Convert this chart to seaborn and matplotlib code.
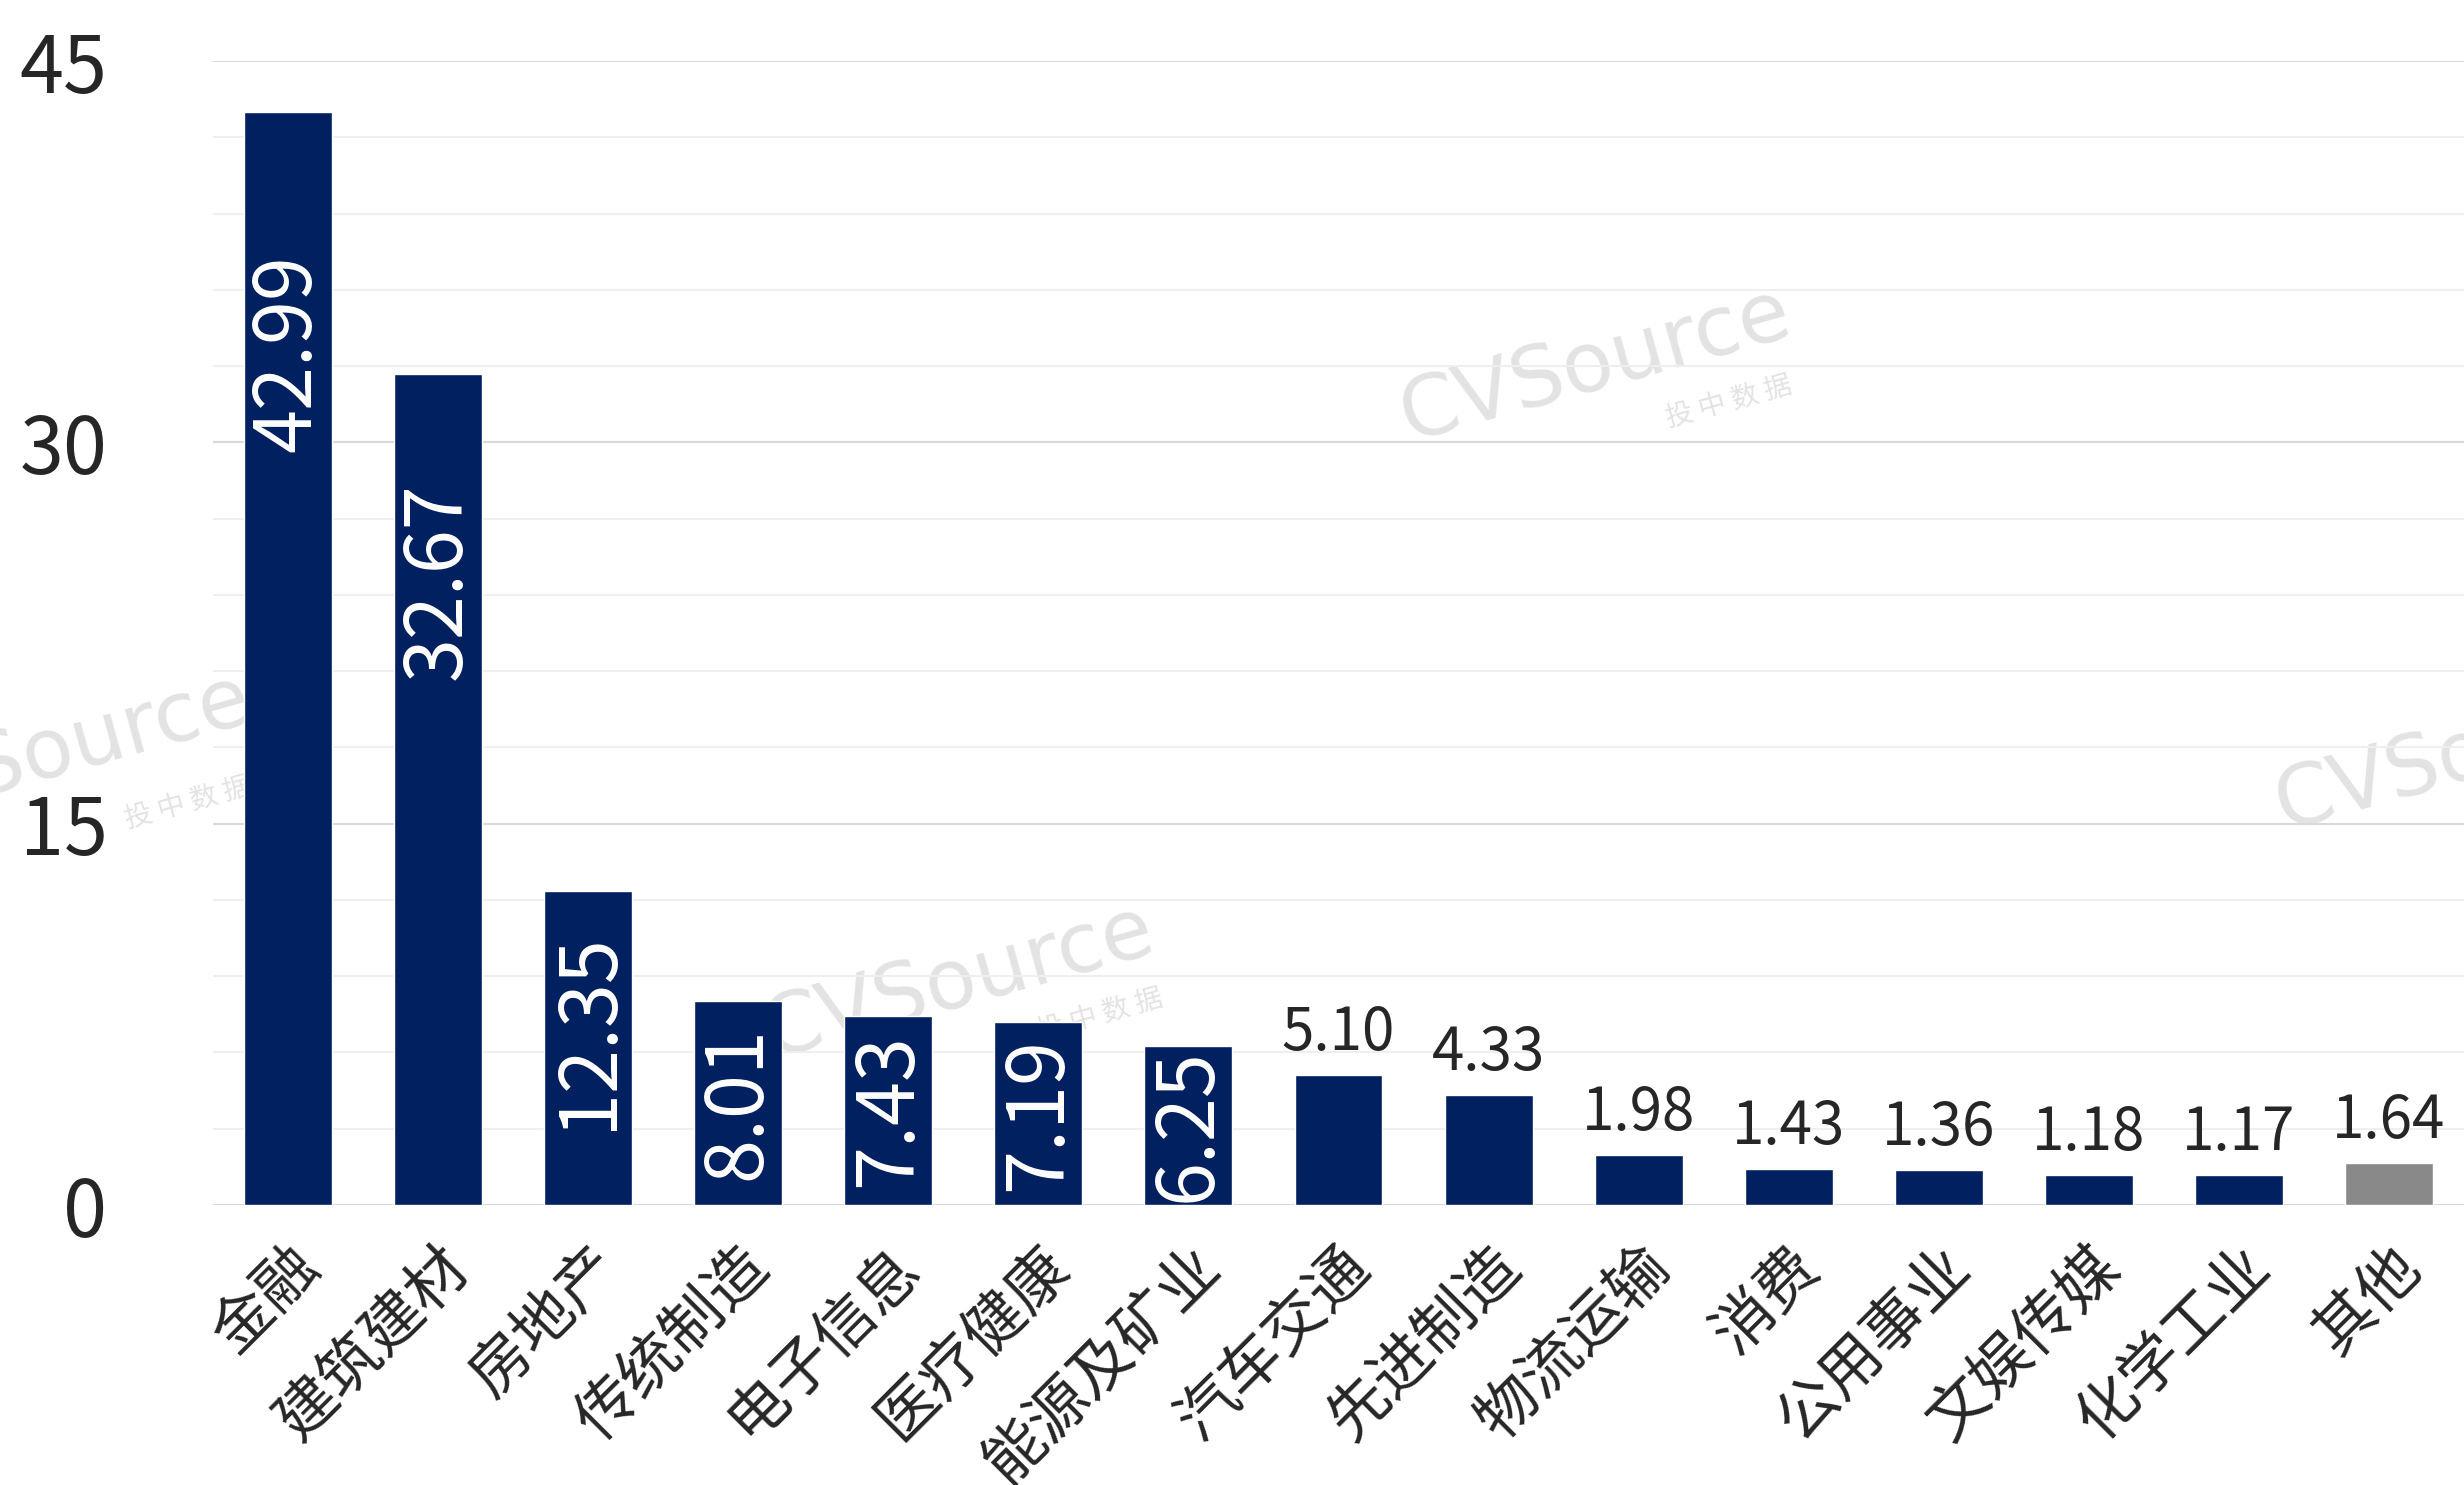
import matplotlib
matplotlib.use("Agg")
import matplotlib.pyplot as plt
import seaborn as sns
import pandas as pd
from matplotlib.ticker import MultipleLocator

categories = ["金融", "建筑建材", "房地产", "传统制造", "电子信息", "医疗健康", "能源及矿业",
              "汽车交通", "先进制造", "物流运输", "消费", "公用事业", "文娱传媒", "化学工业", "其他"]
values = [42.99, 32.67, 12.35, 8.01, 7.43, 7.19, 6.25, 5.10, 4.33, 1.98, 1.43, 1.36, 1.18, 1.17, 1.64]
label_texts = ["42.99", "32.67", "12.35", "8.01", "7.43", "7.19", "6.25", "5.10", "4.33",
               "1.98", "1.43", "1.36", "1.18", "1.17", "1.64"]
inside_label = [True, True, True, True, True, True, True, False, False, False, False, False, False, False, False]
y_ticks = [0, 15, 30, 45]

NAVY = "#002060"
GREY = "#898989"
colors = [GREY if c == "其他" else NAVY for c in categories]

sns.set_theme(style="white")
plt.rcParams['font.family'] = ['Noto Sans CJK SC', 'DejaVu Sans']

df = pd.DataFrame({"cat": categories, "val": values})

fig = plt.figure(figsize=(24.64, 14.85), dpi=100)
ax = fig.add_axes([213/2464, 1 - 1205/1485, (2464 - 213)/2464, (1205 - 61)/1485])

# watermarks (behind grid and bars)
wm_color = "#e3e3e3"
for (cx, cy, sx, sy) in [(1595, 365, 1729, 402), (958, 982, 1100, 1015), (55, 751, 188, 803), (2470, 754, 2600, 790)]:
    ax.text(cx/2464, 1 - cy/1485, "CVSource", transform=fig.transFigure, fontsize=60,
            family="DejaVu Sans", color=wm_color, rotation=15.5, ha="center", va="center",
            zorder=0.2, clip_on=False)
    ax.text(sx/2464, 1 - sy/1485, "投 中 数 据", transform=fig.transFigure, fontsize=20,
            color=wm_color, rotation=15.5, ha="center", va="center", zorder=0.2, clip_on=False)

sns.barplot(data=df, x="cat", y="val", hue="cat", palette=colors, legend=False,
            width=0.586, saturation=1, ax=ax, zorder=2)

ax.set_xlim(-0.5, 14.5)
ax.set_ylim(0, 45)
ax.set_yticks(y_ticks)
ax.yaxis.set_minor_locator(MultipleLocator(3))
ax.set_axisbelow(True)
ax.grid(which="major", axis="y", color="#d9d9d9", linewidth=1.5, zorder=0.5)
ax.grid(which="minor", axis="y", color="#efefef", linewidth=1.5, zorder=0.5)
ax.grid(which="major", axis="x", visible=False)
for s in ax.spines.values():
    s.set_visible(False)

ax.set_xlabel("")
ax.set_ylabel("")
ax.tick_params(axis="y", which="both", length=0, pad=76, labelsize=57, labelcolor="#262626")
ax.tick_params(axis="x", length=0, pad=22, labelsize=44, labelcolor="#262626")
for lbl in ax.get_xticklabels():
    lbl.set_rotation(45)
    lbl.set_ha("right")
    lbl.set_va("top")
    lbl.set_rotation_mode("anchor")

for i, (v, t, inside) in enumerate(zip(values, label_texts, inside_label)):
    if inside:
        if v > 10:
            ax.text(i, v * 0.87, t, rotation=90, ha="center", va="top", color="white",
                    fontsize=57, zorder=3)
        else:
            ax.text(i, v / 2, t, rotation=90, ha="center", va="center", color="white",
                    fontsize=57, zorder=3)
    else:
        ax.annotate(t, (i, v), xytext=(0, 8), textcoords="offset points", ha="center",
                    va="bottom", color="#262626", fontsize=42, zorder=3)

fig.savefig("out.png", dpi=100, facecolor="white")
